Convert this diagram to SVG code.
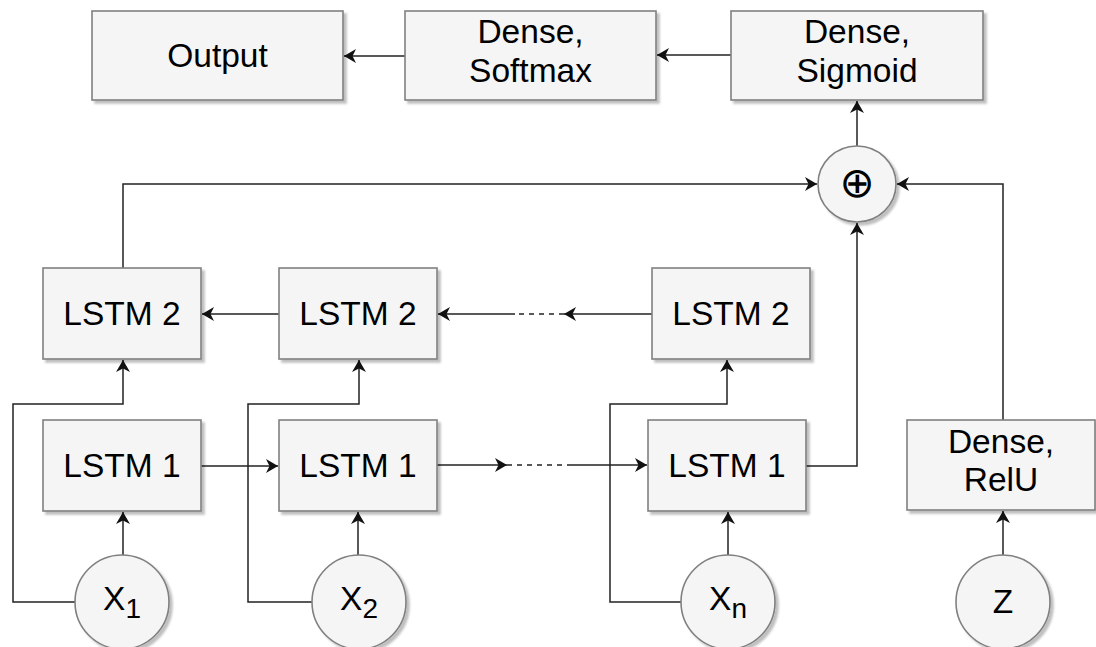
<svg xmlns="http://www.w3.org/2000/svg" width="1096" height="647" viewBox="0 0 1096 647">
<style>
.box{fill:#f5f5f5;stroke:#808080;stroke-width:1.6;filter:url(#sh)}
.t{font-family:"Liberation Sans",Arial,sans-serif;font-size:33.5px;fill:#000;text-anchor:middle}
.ln{fill:none;stroke:#222;stroke-width:1.5}
.ar{marker-end:url(#arr)}
.ds{stroke-dasharray:5 5}
</style>
<defs>
<filter id="sh" x="-10%" y="-10%" width="130%" height="130%">
<feDropShadow dx="3" dy="3" stdDeviation="1.2" flood-color="#000" flood-opacity="0.25"/>
</filter>
<marker id="arr" markerUnits="userSpaceOnUse" markerWidth="13" markerHeight="15" refX="12" refY="7" orient="auto">
<path d="M0,0 L12,7 L0,14 L3.5,7 Z" fill="#111"/>
</marker>
</defs>
<g id="connectors">
<path class="ln ar" d="M405,56 H344"/>
<path class="ln ar" d="M731,55 H657"/>
<path class="ln ar" d="M857,146 V101"/>
<path class="ln ar" d="M123,268 V184 H817"/>
<path class="ln ar" d="M1003,420 V184 H897"/>
<path class="ln ar" d="M806,466 H857 V223"/>
<path class="ln ar" d="M279,314 H202"/>
<path class="ln ar" d="M652,314 H564"/>
<path class="ln ds" d="M564,314 H515"/>
<path class="ln ar" d="M515,314 H438"/>
<path class="ln ar" d="M201,466 H278"/>
<path class="ln ar" d="M437,465 H507"/>
<path class="ln ds" d="M507,465 H570"/>
<path class="ln ar" d="M570,465 H647"/>
<path class="ln ar" d="M123,555 V512"/>
<path class="ln ar" d="M358,555 V512"/>
<path class="ln ar" d="M728,555 V512"/>
<path class="ln ar" d="M1003,555 V511"/>
<path class="ln ar" d="M75,602 H13 V404 H123 V360"/>
<path class="ln ar" d="M312,602 H248 V404 H359 V360"/>
<path class="ln ar" d="M681,602 H610 V404 H727 V360"/>
</g>
<g id="output"><rect class="box" x="92" y="11" width="251" height="89"/><text class="t" x="217.5" y="67">Output</text></g>
<g id="softmax"><rect class="box" x="405" y="11" width="251" height="89"/><text class="t" x="530.5" y="43">Dense,</text><text class="t" x="530.5" y="82">Softmax</text></g>
<g id="sigmoid"><rect class="box" x="731" y="11" width="252" height="89"/><text class="t" x="857" y="43">Dense,</text><text class="t" x="857" y="82">Sigmoid</text></g>
<g id="sum"><ellipse class="box" cx="857" cy="184" rx="39" ry="38"/><text x="857" y="197" style="font-family:'DejaVu Sans',sans-serif;font-size:42px;text-anchor:middle;fill:#000">⊕</text></g>
<g id="lstm2a"><rect class="box" x="43" y="268" width="158" height="91"/><text class="t" x="122" y="325">LSTM 2</text></g>
<g id="lstm2b"><rect class="box" x="279" y="268" width="158" height="91"/><text class="t" x="358" y="325">LSTM 2</text></g>
<g id="lstm2n"><rect class="box" x="652" y="268" width="158" height="91"/><text class="t" x="731" y="325">LSTM 2</text></g>
<g id="lstm1a"><rect class="box" x="43" y="420" width="158" height="91"/><text class="t" x="122" y="477">LSTM 1</text></g>
<g id="lstm1b"><rect class="box" x="279" y="420" width="158" height="91"/><text class="t" x="358" y="477">LSTM 1</text></g>
<g id="lstm1n"><rect class="box" x="648" y="420" width="158" height="91"/><text class="t" x="727" y="477">LSTM 1</text></g>
<g id="relu"><rect class="box" x="907" y="420" width="188" height="90"/><text class="t" x="1001" y="453">Dense,</text><text class="t" x="1001" y="491">RelU</text></g>
<g id="x1"><circle class="box" cx="122" cy="602" r="47"/><text class="t" x="122" y="610">X<tspan font-size="28" dy="8">1</tspan></text></g>
<g id="x2"><circle class="box" cx="359" cy="602" r="47"/><text class="t" x="359" y="610">X<tspan font-size="28" dy="8">2</tspan></text></g>
<g id="xn"><circle class="box" cx="728" cy="602" r="47"/><text class="t" x="728" y="610">X<tspan font-size="28" dy="8">n</tspan></text></g>
<g id="z"><circle class="box" cx="1003" cy="602" r="47"/><text class="t" x="1003" y="613">Z</text></g>
</svg>
